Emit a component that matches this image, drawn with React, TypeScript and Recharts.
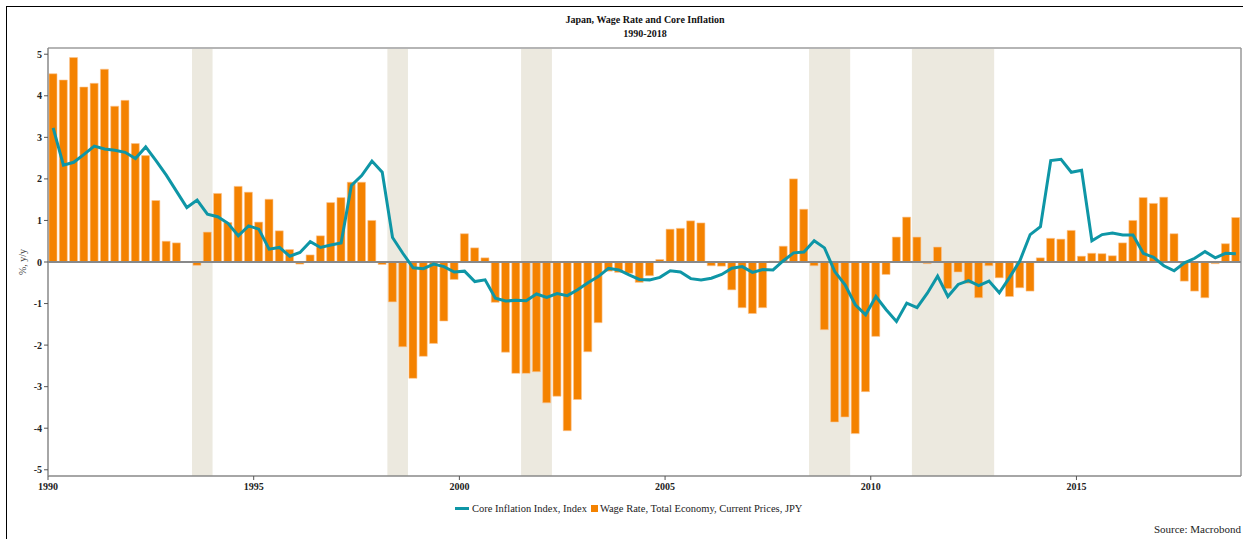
import React from 'react';
import {
  ComposedChart,
  Bar,
  Line,
  XAxis,
  YAxis,
  ReferenceArea,
  ReferenceLine,
} from 'recharts';

// quarterly, 1990Q1 .. 2018Q4
const wageRate = [
  4.53, 4.38, 4.92, 4.21, 4.3, 4.64, 3.75, 3.89, 2.85, 2.56, 1.48, 0.5,
  0.46, 0.01, -0.08, 0.72, 1.65, 0.95, 1.82, 1.68, 0.96, 1.51, 0.75, 0.3,
  -0.05, 0.17, 0.63, 1.43, 1.55, 1.92, 1.92, 1.0, -0.06, -0.96, -2.04, -2.8,
  -2.27, -1.96, -1.42, -0.42, 0.68, 0.34, 0.1, -0.97, -2.17, -2.68, -2.68, -2.64,
  -3.39, -3.23, -4.06, -3.31, -2.16, -1.46, -0.22, -0.25, -0.27, -0.49, -0.33, 0.06,
  0.79, 0.81, 0.99, 0.94, -0.09, -0.1, -0.67, -1.1, -1.24, -1.1, 0.02, 0.38,
  2.0, 1.27, -0.09, -1.63, -3.85, -3.73, -4.13, -3.12, -1.79, -0.3, 0.6, 1.08,
  0.6, -0.04, 0.36, -0.64, -0.24, -0.51, -0.86, -0.09, -0.38, -0.83, -0.62, -0.7,
  0.1, 0.57, 0.55, 0.76, 0.14, 0.21, 0.2, 0.15, 0.46, 1.0, 1.55, 1.41,
  1.56, 0.68, -0.46, -0.7, -0.86, -0.04, 0.44, 1.07,
];

const coreInflation = [
  3.23, 2.33, 2.4, 2.59, 2.79, 2.72, 2.69, 2.64, 2.49, 2.77, 2.44, 2.09,
  1.7, 1.31, 1.49, 1.15, 1.09, 0.93, 0.63, 0.87, 0.79, 0.31, 0.35, 0.14,
  0.23, 0.49, 0.35, 0.41, 0.46, 1.84, 2.08, 2.43, 2.16, 0.59, 0.21, -0.14,
  -0.16, -0.05, -0.11, -0.24, -0.22, -0.47, -0.43, -0.87, -0.94, -0.92, -0.93, -0.77,
  -0.85, -0.76, -0.81, -0.67, -0.5, -0.35, -0.15, -0.19, -0.31, -0.42, -0.43, -0.37,
  -0.21, -0.24, -0.4, -0.43, -0.39, -0.3, -0.15, -0.11, -0.25, -0.18, -0.19, 0.03,
  0.22, 0.24, 0.51, 0.34, -0.23, -0.55, -1.03, -1.27, -0.83, -1.15, -1.43, -0.99,
  -1.1, -0.75, -0.34, -0.83, -0.54, -0.45, -0.57, -0.46, -0.74, -0.37, 0.03, 0.66,
  0.85, 2.44, 2.47, 2.16, 2.21, 0.51, 0.66, 0.7, 0.65, 0.65, 0.21, 0.11,
  -0.09, -0.21, -0.02, 0.09, 0.25, 0.1, 0.21, 0.2,
];

// recession shading, [start, end] in years
const recessions = [
  [1993.5, 1994.0],
  [1998.25, 1998.75],
  [2001.5, 2002.25],
  [2008.5, 2009.5],
  [2011.0, 2013.0],
];

const yearTicks = [1990, 1995, 2000, 2005, 2010, 2015];
const valueTicks = [-5, -4, -3, -2, -1, 0, 1, 2, 3, 4, 5];

// bar/point sits mid-quarter
const data = wageRate.map((w, i) => ({
  t: 1990 + i * 0.25 + 0.125,
  wage: w,
  core: coreInflation[i],
}));

const serif = '"Liberation Serif", "DejaVu Serif", serif';
const TEAL = '#0E96A6';
const ORANGE = '#F48200';

const tickStyle = { fontSize: 10, fontWeight: 700, fill: '#222', fontFamily: serif };

export default function App() {
  return (
    <div
      style={{
        position: 'fixed',
        left: 0,
        top: 0,
        width: 1243,
        height: 539,
        overflow: 'hidden',
        background: '#fff',
        fontFamily: serif,
      }}
    >
      <div
        style={{
          position: 'absolute',
          left: 0,
          top: 13,
          width: 1290,
          textAlign: 'center',
          fontSize: 10,
          fontWeight: 700,
          lineHeight: '14px',
          color: '#111',
        }}
      >
        <div>Japan, Wage Rate and Core Inflation</div>
        <div>1990-2018</div>
      </div>

      <ComposedChart
        width={1243}
        height={539}
        data={data}
        margin={{ top: 48, right: 2, left: 0, bottom: 33 }}
        style={{ position: 'absolute', left: 0, top: 0 }}
      >
        {recessions.map(([a, b]) => (
          <ReferenceArea key={a} x1={a} x2={b} fill="#ECE9DF" fillOpacity={1} stroke="none" ifOverflow="hidden" />
        ))}
        <XAxis
          dataKey="t"
          type="number"
          domain={[1990, 2019]}
          ticks={yearTicks}
          allowDataOverflow
          height={30}
          tickSize={4}
          tick={tickStyle}
          tickMargin={3}
          axisLine={{ stroke: '#888', strokeWidth: 1.5 }}
          tickLine={{ stroke: '#555' }}
        />
        <YAxis
          type="number"
          domain={[-5.15, 5.15]}
          ticks={valueTicks}
          allowDataOverflow
          width={48}
          tickSize={4}
          tick={tickStyle}
          tickMargin={2}
          axisLine={{ stroke: '#888', strokeWidth: 1.5 }}
          tickLine={{ stroke: '#555' }}
        />
        <ReferenceLine y={5.15} stroke="#b5b5b5" strokeWidth={2} />
        <ReferenceLine x={2019} stroke="#999" strokeWidth={1.5} />
        <Bar
          dataKey="wage"
          barSize={8}
          fill={ORANGE}
          stroke="#FBC590"
          strokeWidth={0.6}
          isAnimationActive={false}
        />
        <ReferenceLine y={0} stroke="#888" strokeWidth={2} />
        <Line
          dataKey="core"
          type="linear"
          stroke={TEAL}
          strokeWidth={3}
          dot={false}
          isAnimationActive={false}
        />
      </ComposedChart>

      <div
        style={{
          position: 'absolute',
          left: 22,
          top: 262,
          transform: 'translate(-50%, -50%) rotate(-90deg)',
          fontSize: 10,
          color: '#444',
          whiteSpace: 'nowrap',
        }}
      >
        %, y/y
      </div>

      {/* legend */}
      <div
        style={{
          position: 'absolute',
          left: 455,
          top: 503,
          display: 'flex',
          alignItems: 'center',
          fontSize: 10.5,
          color: '#222',
          whiteSpace: 'nowrap',
        }}
      >
        <span style={{ display: 'inline-block', width: 14, height: 3, background: TEAL, marginRight: 3 }} />
        <span>Core Inflation Index, Index</span>
        <span style={{ display: 'inline-block', width: 7, height: 7, background: ORANGE, margin: '0 2px 0 4px' }} />
        <span>Wage Rate, Total Economy, Current Prices, JPY</span>
      </div>

      <div
        style={{
          position: 'absolute',
          right: 2,
          top: 522,
          fontSize: 11,
          lineHeight: '14px',
          color: '#222',
          whiteSpace: 'nowrap',
        }}
      >
        Source: Macrobond
      </div>

      {/* page frame */}
      <div
        style={{
          position: 'absolute',
          left: 6,
          top: 6,
          width: 1250,
          height: 540,
          borderLeft: '1.5px solid #000',
          borderTop: '1.5px solid #000',
          zIndex: 5,
          pointerEvents: 'none',
        }}
      />
    </div>
  );
}
